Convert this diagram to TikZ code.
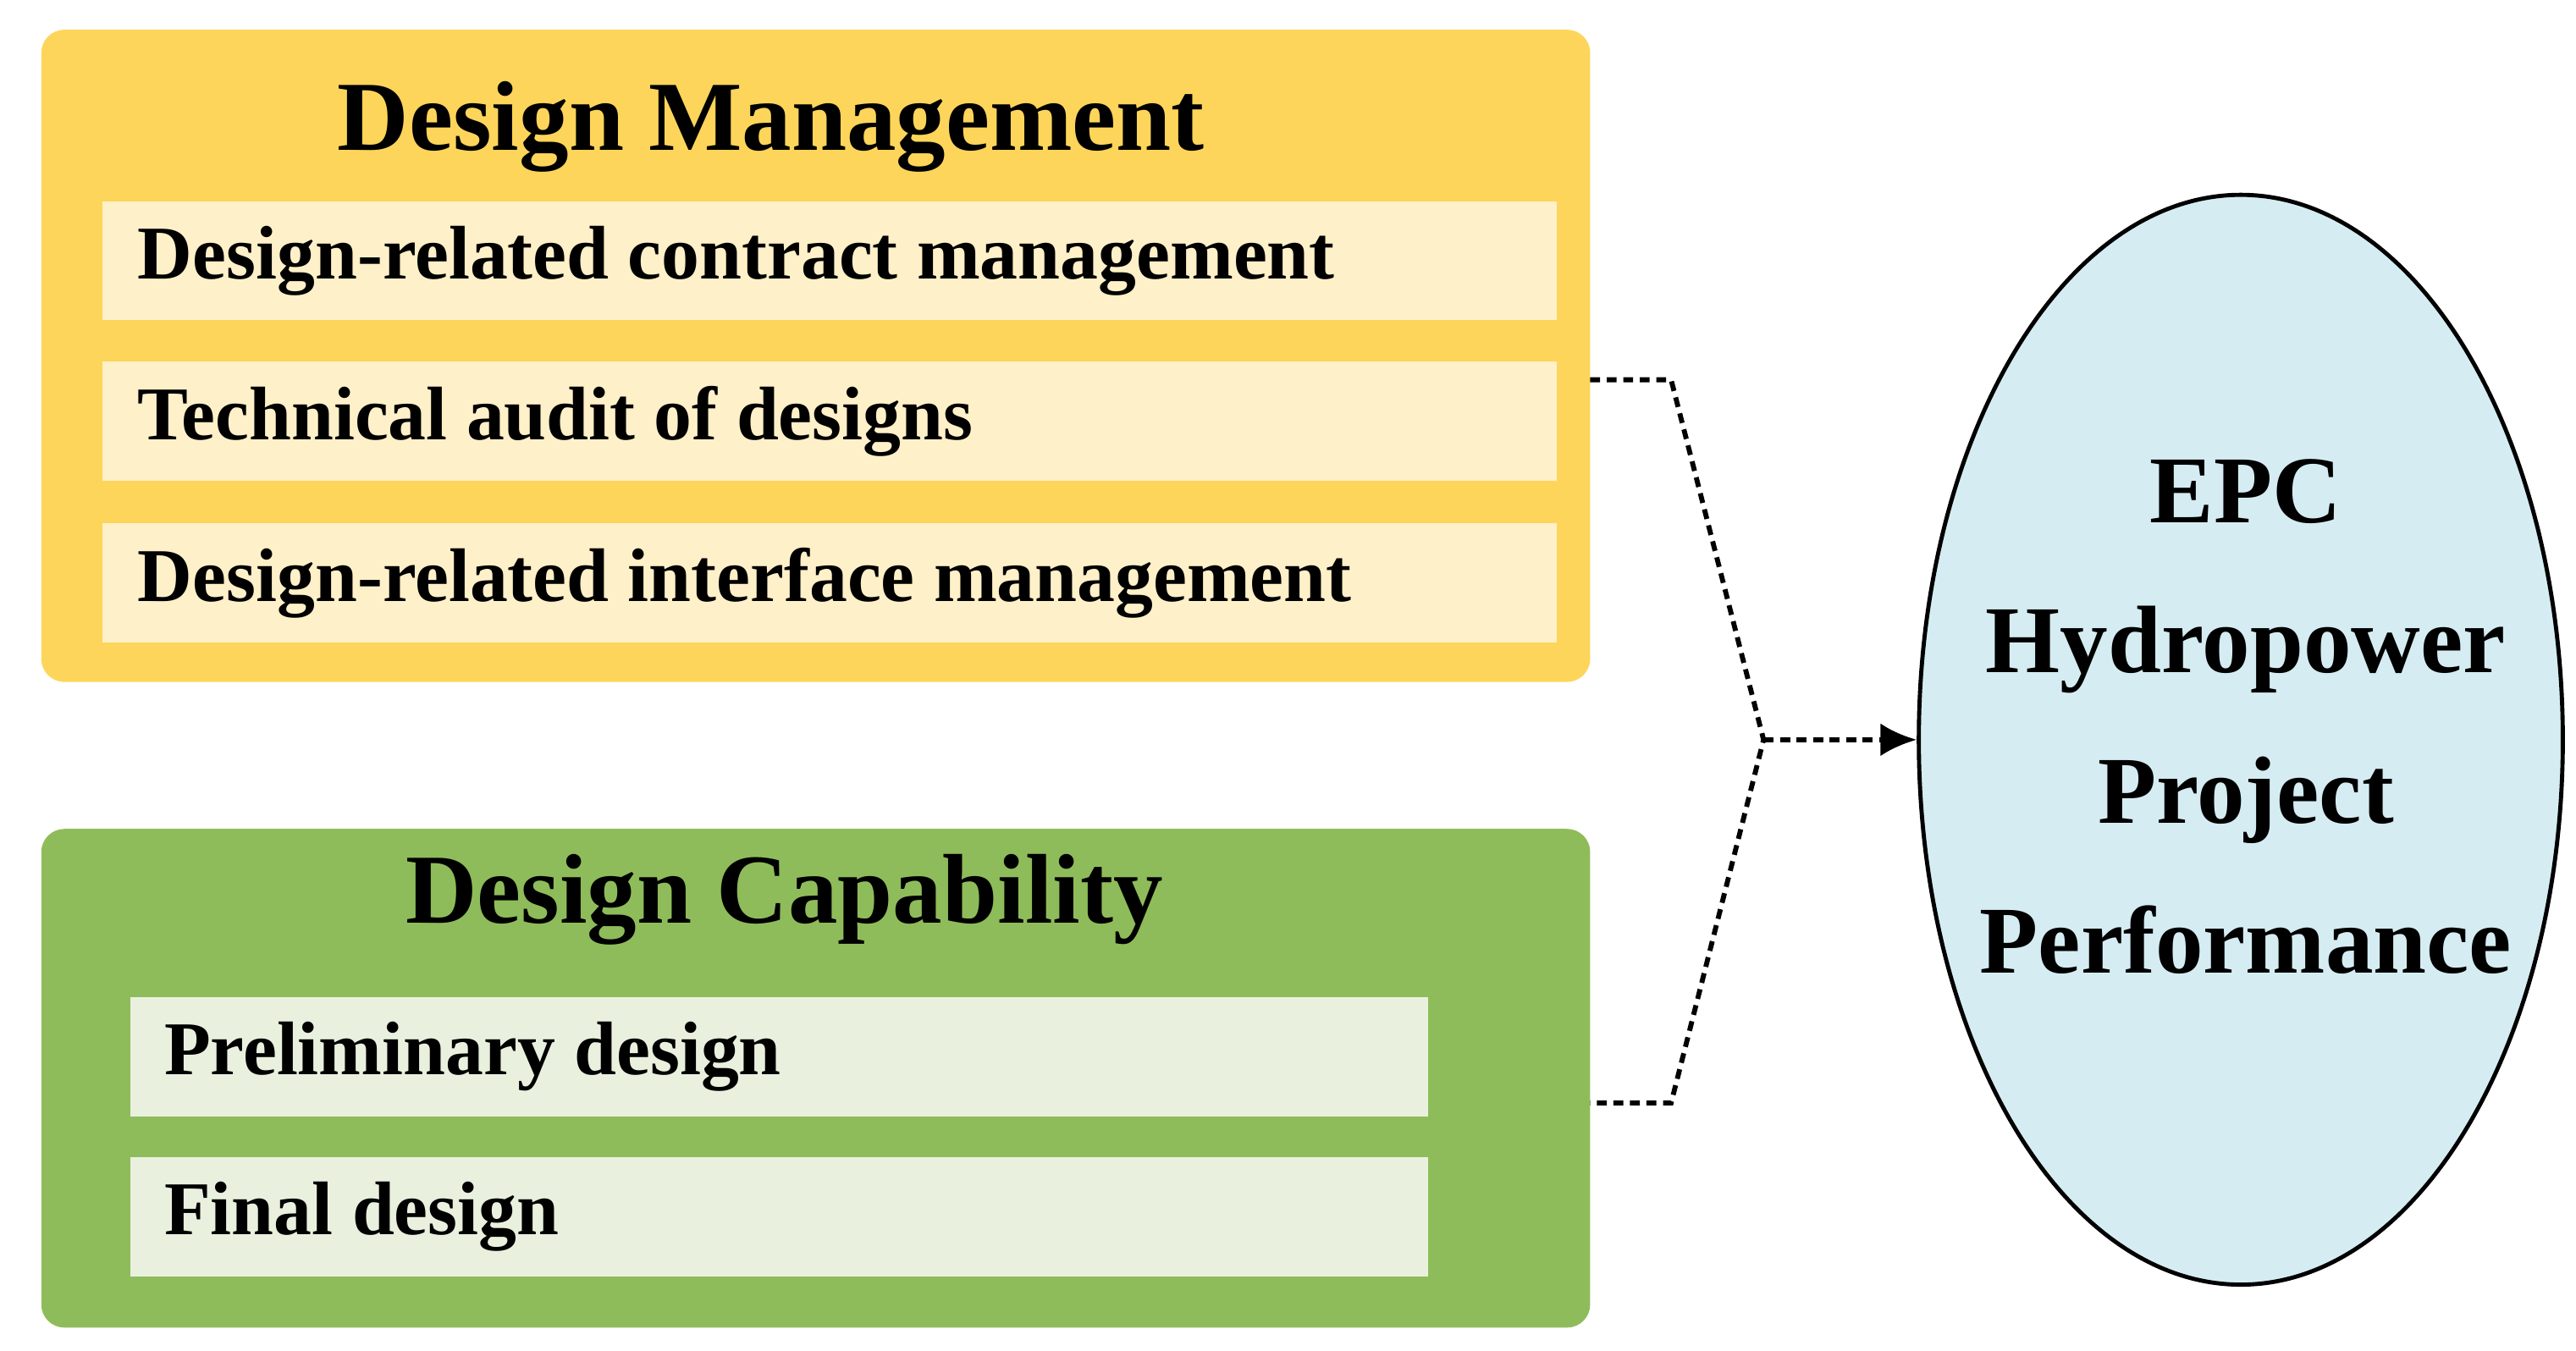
\documentclass[tikz,border=0pt]{standalone}
\usepackage{fontspec}
\setmainfont{Liberation Serif}
\usetikzlibrary{arrows.meta,shapes.geometric}
\definecolor{gold}{HTML}{FDD55A}
\definecolor{lgold}{HTML}{FEF0C8}
\definecolor{grn}{HTML}{8FBC5A}
\definecolor{lgrn}{HTML}{E9F1DE}
\definecolor{sky}{HTML}{D5EDF2}
\begin{document}
\begin{tikzpicture}[x=1pt,y=-1pt,
  outer/.style={rounded corners=14pt},
  item/.style={anchor=west,font=\fontsize{46}{50}\selectfont\bfseries},
  ttl/.style={font=\fontsize{60}{64}\selectfont\bfseries},
  conn/.style={dash pattern=on 6pt off 4pt,line width=3pt}]
\useasboundingbox (0,0) rectangle (1560,818);
\fill[gold,outer] (25,18) rectangle (963,413);
\node[ttl] (t1) at (467,77) {Design Management};
\fill[lgold] (62,122) rectangle (943,194);
\fill[lgold] (62,219) rectangle (943,291);
\fill[lgold] (62,317) rectangle (943,389);
\node[item] (a1) at (80,158) {Design-related contract management};
\node[item] (a2) at (80,255) {Technical audit of designs};
\node[item] (a3) at (80,353) {Design-related interface management};
\fill[grn,outer] (25,502) rectangle (963,804);
\node[ttl] (t2) at (475,545) {Design Capability};
\fill[lgrn] (79,604) rectangle (865,676);
\fill[lgrn] (79,701) rectangle (865,773);
\node[item] (b1) at (96,640) {Preliminary design};
\node[item] (b2) at (96,737) {Final design};
\node[ellipse,draw,line width=2.5pt,fill=sky,minimum width=390pt,minimum height=660pt,inner sep=0pt] (e) at (1357,448) {};
\node[font=\fontsize{58}{91}\selectfont\bfseries,align=center] (et) at (1360,434) {EPC\\Hydropower\\Project\\Performance};
\coordinate (s1) at (963,230);
\coordinate (k1) at (1012,230);
\coordinate (s2) at (963,668);
\coordinate (k2) at (1012,668);
\coordinate (m) at (1068,448);
\draw[conn] (s1) -- (k1) -- (m) -- (k2) -- (s2);
\draw[conn,-{Latex[length=22pt,width=20pt]}] (m) -- (e.west);
\end{tikzpicture}
\end{document}
